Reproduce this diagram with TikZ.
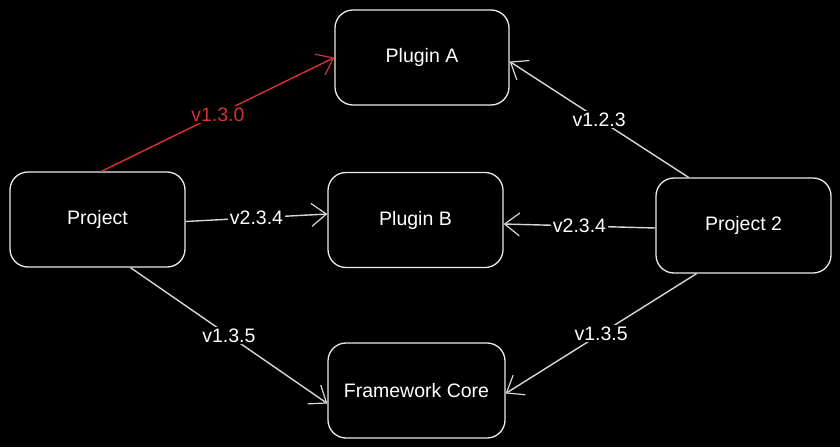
\documentclass[tikz,border=0pt]{standalone}
\usepackage{fontspec}
\setmainfont{Liberation Sans}
\usetikzlibrary{arrows.meta}
\definecolor{edgegray}{RGB}{215,215,215}
\definecolor{boxline}{RGB}{235,235,235}
\definecolor{redline}{RGB}{214,50,48}
\begin{document}
\begin{tikzpicture}[x=1pt,y=-1pt,
  box/.style={draw=boxline, line width=1.3pt, rounded corners=18pt, fill=black,
    minimum width=175pt, minimum height=95pt, inner sep=0pt, text=white,
    font=\fontsize{19.5}{21}\selectfont},
  link/.style={draw=edgegray, line width=1.4pt,
    -{Straight Barb[length=15pt,width=23pt,line width=1.2pt]}},
  redlink/.style={link, draw=redline},
  lbl/.style={fill=black, text=white, inner sep=2pt, font=\fontsize{19.5}{21}\selectfont},
  redlbl/.style={lbl, text=redline}]
\fill[black] (0,0) rectangle (840,447);
\useasboundingbox (0,0) rectangle (840,447);
\node[box] (proj) at (97.5,219.5) {Project};
\node[box, minimum width=174pt] (pa) at (422,57.5) {Plugin A};
\node[box] (pb) at (415.5,220) {Plugin B};
\node[box] (p2) at (743.5,225.5) {Project 2};
\node[box, minimum width=177pt] (fc) at (416.5,390.5) {Framework Core};
\draw[redlink] ([xshift=4pt]proj.north) -- (pa.west) node[redlbl, pos=0.5] {v1.3.0};
\draw[link] ([yshift=-2pt]proj.east) -- ([yshift=6pt]pb.west) node[lbl, pos=0.5] {v2.3.4};
\draw[link] ([xshift=33pt]proj.south) -- ([yshift=-13pt]fc.west) node[lbl, pos=0.5] {v1.3.5};
\draw[link] ([xshift=-55pt]p2.north) -- ([yshift=-4pt]pa.east) node[lbl, pos=0.5] {v1.2.3};
\draw[link] ([yshift=-2.5pt]p2.west) -- ([yshift=-4pt]pb.east) node[lbl, pos=0.5] {v2.3.4};
\draw[link] ([xshift=-47pt]p2.south) -- ([yshift=-3pt]fc.east) node[lbl, pos=0.5] {v1.3.5};
\end{tikzpicture}
\end{document}
